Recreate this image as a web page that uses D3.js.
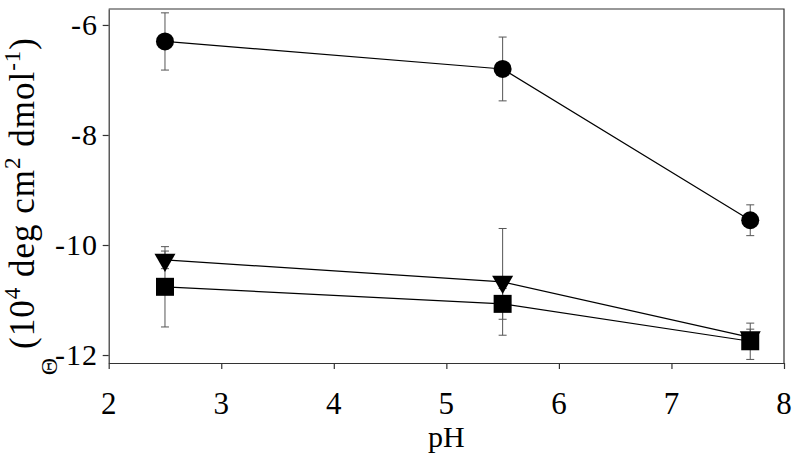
<!DOCTYPE html>
<html>
<head>
<meta charset="utf-8">
<script src="https://cdn.jsdelivr.net/npm/d3@7"></script>
<style>
  body { margin: 0; background: #fff; }
  text.lbl { font-family: "Liberation Serif", "Times New Roman", serif; fill: #000; }
</style>
</head>
<body>
<div id="visualization"></div>
<script>
// pH values shared by all series
const phValues = [2.5, 5.5, 7.7];

// mean ellipticity and error (10^4 deg cm2 dmol-1)
const circleMean = [-6.30, -6.80, -9.55];
const circleErr = [0.52, 0.58, 0.28];
const triangleMean = [-10.27, -10.67, -11.68];
const triangleErr = [0.16, 0.97, 0.15];
const squareMean = [-10.76, -11.07, -11.75];
const squareErr = [0.73, 0.28, 0.33];

const xTicks = [2, 3, 4, 5, 6, 7, 8];
const yTicks = [-6, -8, -10, -12];

const width = 800, height = 460;
const margin = { top: 9, right: 16, bottom: 97, left: 108.7 };

const svg = d3.select('#visualization')
  .append('svg')
  .attr('width', width)
  .attr('height', height);

const x = d3.scaleLinear().domain([2, 8]).range([margin.left, width - margin.right]);
const y = d3.scaleLinear().domain([-12.145, -5.71]).range([height - margin.bottom, margin.top]);

// axes: d3 draws the lines and ticks, labels are added separately as serif text
svg.append('g')
  .attr('transform', `translate(0,${y.range()[0]})`)
  .call(d3.axisBottom(x).tickValues(xTicks).tickFormat('').tickSize(6).tickSizeOuter(0));

svg.append('g')
  .attr('transform', `translate(${x.range()[0]},0)`)
  .call(d3.axisLeft(y).tickValues(yTicks).tickFormat('').tickSize(6).tickSizeOuter(0));

svg.selectAll('.domain, .tick line').attr('stroke', '#333').attr('stroke-width', 1.2);

svg.append('g').selectAll('text').data(xTicks).join('text')
  .attr('class', 'lbl')
  .attr('x', d => x(d))
  .attr('y', 414)
  .attr('text-anchor', 'middle')
  .style('font-size', '31px')
  .text(d => d);

svg.append('g').selectAll('text').data(yTicks).join('text')
  .attr('class', 'lbl')
  .attr('x', 98)
  .attr('y', d => y(d))
  .attr('dy', '0.34em')
  .attr('text-anchor', 'end')
  .style('font-size', '30px')
  .style('letter-spacing', '1px')
  .text(d => d);

// top + right frame
svg.append('path')
  .attr('d', `M${x.range()[0]},${y.range()[1]}H${x.range()[1]}V${y.range()[0]}`)
  .attr('fill', 'none')
  .attr('stroke', '#333')
  .attr('stroke-width', 1.2);

// axis titles
svg.append('text')
  .attr('class', 'lbl')
  .attr('x', (x.range()[0] + x.range()[1]) / 2)
  .attr('y', 447)
  .attr('text-anchor', 'middle')
  .style('font-size', '30px')
  .text('pH');

const ylab = svg.append('text')
  .attr('class', 'lbl')
  .attr('transform', 'translate(34,193) rotate(-90)')
  .attr('text-anchor', 'middle')
  .style('font-size', '35px')
  .style('letter-spacing', '1px');
ylab.append('tspan').text('(10');
ylab.append('tspan').style('font-size', '23px').attr('dy', -14).text('4');
ylab.append('tspan').attr('dy', 14).text(' deg cm');
ylab.append('tspan').style('font-size', '23px').attr('dy', -14).text('2');
ylab.append('tspan').attr('dy', 14).text(' dmol');
ylab.append('tspan').style('font-size', '23px').attr('dy', -14).text('-1');
ylab.append('tspan').attr('dy', 14).text(')');

svg.append('text')
  .attr('class', 'lbl')
  .attr('transform', 'translate(48.5,366.5) rotate(-90)')
  .attr('text-anchor', 'middle')
  .attr('dy', '0.35em')
  .style('font-size', '24px')
  .text('Θ');

const series = [
  { mean: circleMean, err: circleErr, symbol: d3.symbolCircle, size: 254, rot: 0 },
  { mean: triangleMean, err: triangleErr, symbol: d3.symbolTriangle, size: 191, rot: 180 },
  { mean: squareMean, err: squareErr, symbol: d3.symbolSquare, size: 324, rot: 0 }
];

const plot = svg.append('g');

// error bars first so markers sit on top
series.forEach(s => {
  const pts = phValues.map((p, i) => ({ p, m: s.mean[i], e: s.err[i] }));
  const eb = plot.append('g').attr('stroke', '#555').attr('stroke-width', 1);
  eb.selectAll('line.v').data(pts).join('line')
    .attr('x1', d => x(d.p)).attr('x2', d => x(d.p))
    .attr('y1', d => y(d.m - d.e)).attr('y2', d => y(d.m + d.e));
  eb.selectAll('line.top').data(pts).join('line')
    .attr('x1', d => x(d.p) - 4).attr('x2', d => x(d.p) + 4)
    .attr('y1', d => y(d.m + d.e)).attr('y2', d => y(d.m + d.e));
  eb.selectAll('line.bot').data(pts).join('line')
    .attr('x1', d => x(d.p) - 4).attr('x2', d => x(d.p) + 4)
    .attr('y1', d => y(d.m - d.e)).attr('y2', d => y(d.m - d.e));
});

const line = d3.line().x(d => x(d.p)).y(d => y(d.m));

series.forEach(s => {
  const pts = phValues.map((p, i) => ({ p, m: s.mean[i] }));
  plot.append('path')
    .datum(pts)
    .attr('d', line)
    .attr('fill', 'none')
    .attr('stroke', '#000')
    .attr('stroke-width', 1.2);
});

series.forEach(s => {
  const pts = phValues.map((p, i) => ({ p, m: s.mean[i] }));
  plot.append('g').selectAll('path').data(pts).join('path')
    .attr('d', d3.symbol().type(s.symbol).size(s.size))
    .attr('transform', d => `translate(${x(d.p)},${y(d.m)}) rotate(${s.rot})`)
    .attr('fill', '#000');
});
</script>
</body>
</html>
